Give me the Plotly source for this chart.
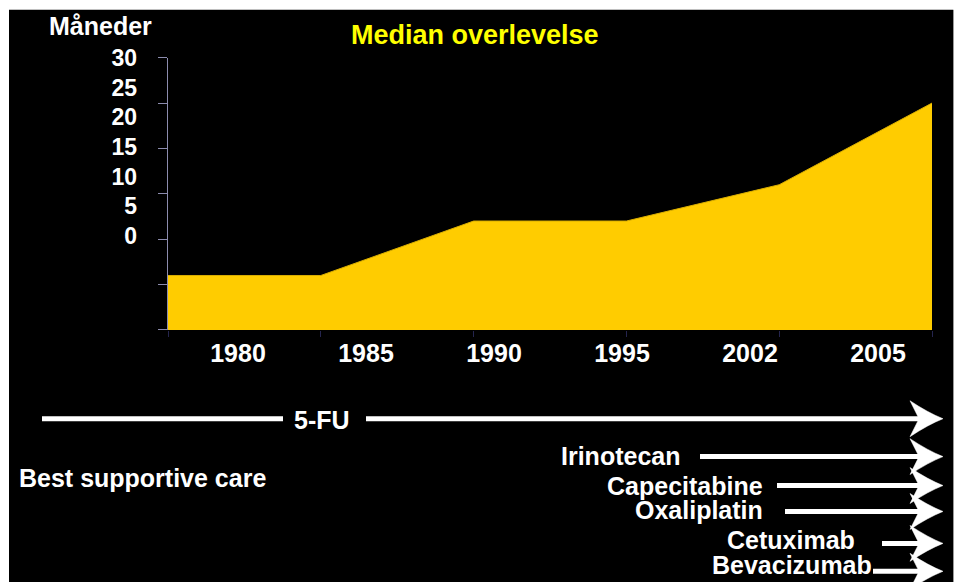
import plotly.graph_objects as go

# ---- data ----
years = ["1980", "1985", "1990", "1995", "2002", "2005"]
median_survival = [6, 6, 12, 12, 16, 25]          # months
y_tick_values = [0, 5, 10, 15, 20, 25, 30]
y_tick_labels = ["0", "5", "10", "15", "20", "25", "30"]
drugs = ["Irinotecan", "Capecitabine", "Oxaliplatin", "Cetuximab", "Bevacizumab"]

W, H = 960, 582
FONT = "Liberation Sans, Arial, sans-serif"
# the page is photographed with a small vertical offset/scale; compensate
OFF, SC = 11.2, 0.982


def px(x):
    return x / W


def py(y):
    return 1 - (y - OFF) / (SC * H)


fig = go.Figure()

fig.add_trace(go.Scatter(
    x=list(range(len(years))), y=median_survival,
    mode="lines", fill="tozeroy", fillcolor="#FFCC00",
    line=dict(color="#D9AE00", width=1), hoverinfo="skip",
    showlegend=False, xaxis="x", yaxis="y",
))
# helper trace for the label axes
fig.add_trace(go.Scatter(
    x=list(range(len(years))), y=y_tick_values[:len(years)],
    mode="none", hoverinfo="skip", showlegend=False,
    xaxis="x2", yaxis="y2",
))

xdom = [px(168), px(932)]
ydom = [py(330), py(57)]

shapes = [
    dict(type="rect", xref="paper", yref="paper", x0=px(9), x1=px(953),
         y0=py(600), y1=py(9), fillcolor="black", line=dict(width=0), layer="below"),
    dict(type="line", xref="paper", yref="paper", x0=px(953.5), x1=px(953.5),
         y0=py(600), y1=py(9), line=dict(color="#9a9a9a", width=1)),
]
annotations = []


def arrow(x_start, y, tip=943):
    shapes.append(dict(type="line", xref="paper", yref="paper",
                       x0=px(x_start), x1=px(tip - 20), y0=py(y), y1=py(y),
                       line=dict(color="white", width=5)))
    path = (f"M{px(tip)},{py(y)} "
            f"Q{px(tip - 15)},{py(y - 6)} {px(tip - 33)},{py(y - 18)} "
            f"L{px(tip - 24)},{py(y)} "
            f"L{px(tip - 33)},{py(y + 18)} "
            f"Q{px(tip - 15)},{py(y + 6)} {px(tip)},{py(y)} Z")
    shapes.append(dict(type="path", xref="paper", yref="paper", path=path,
                       fillcolor="white", line=dict(color="white", width=0.5)))


def text(t, x, y, size=25, color="white", xanchor="center"):
    annotations.append(dict(text=t, x=px(x), y=py(y), xref="paper", yref="paper",
                            showarrow=False, xanchor=xanchor, yanchor="middle",
                            font=dict(family=FONT, size=size, color=color, weight="bold")))


# 5-FU line
shapes.append(dict(type="line", xref="paper", yref="paper", x0=px(42), x1=px(283),
                   y0=py(419), y1=py(419), line=dict(color="white", width=5)))
arrow(366, 419)
text("5-FU", 322, 420)
text("Best supportive care", 17, 478, xanchor="left")

drug_layout = [  # (label anchor x, anchor, label y, line start x, line y)
    (682, "right", 456, 700, 457),
    (765, "right", 486, 777, 486),
    (765, "right", 511, 785, 512),
    (725, "left", 541, 882, 544),
    (710, "left", 566, 873, 572),
]
for name, (lx, anc, ly, sx, sy) in zip(drugs, drug_layout):
    arrow(sx, sy)
    text(name, lx, ly, xanchor=anc)

text("Måneder", 100, 25)
text("Median overlevelse", 475, 34, size=27, color="#FFFF00")

fig.update_layout(
    width=W, height=H,
    margin=dict(l=0, r=0, t=0, b=0),
    paper_bgcolor="white", plot_bgcolor="black",
    showlegend=False,
    shapes=shapes, annotations=annotations,
    xaxis=dict(domain=xdom, range=[0, len(years) - 1], tickvals=list(range(len(years))),
               showticklabels=False, ticks="outside", ticklen=6, tickcolor="#25254f",
               showgrid=False, zeroline=False, showline=False, fixedrange=True),
    yaxis=dict(domain=ydom, range=[0, 30], tickvals=y_tick_values,
               showticklabels=False, ticks="outside", ticklen=9, tickcolor="#8c8cae",
               showline=True, linecolor="#8c8cae", linewidth=1,
               showgrid=False, zeroline=False, fixedrange=True),
    xaxis2=dict(overlaying="x", anchor="y", side="bottom", range=[-0.547, 5.422],
                tickvals=list(range(len(years))), ticktext=years, ticks="",
                ticklabelstandoff=6,
                tickfont=dict(family=FONT, size=25, color="white", weight="bold"),
                showgrid=False, zeroline=False, showline=False, fixedrange=True),
    yaxis2=dict(overlaying="y", anchor="x", side="left", range=[-15.93, 30.08],
                tickvals=y_tick_values, ticktext=y_tick_labels, ticks="",
                ticklabelstandoff=30,
                tickfont=dict(family=FONT, size=23, color="white", weight="bold"),
                showgrid=False, zeroline=False, showline=False, fixedrange=True),
)

post = (
    "var st=document.createElement('style');"
    "st.textContent='html,body{margin:0;padding:0;height:582px;overflow:hidden;}';"
    "document.head.appendChild(st);"
)
fig.write_html("out.html", config={"displayModeBar": False, "responsive": False},
               post_script=post)
